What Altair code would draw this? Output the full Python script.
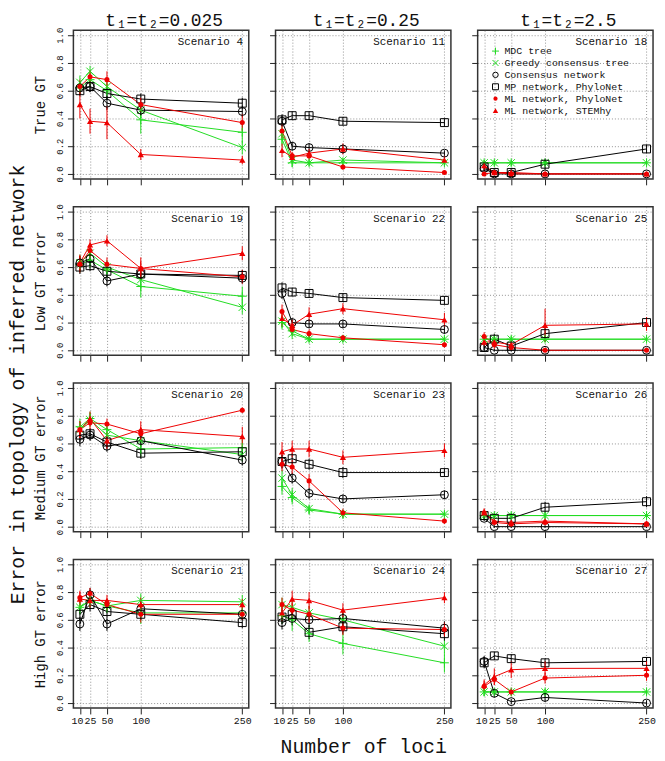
import altair as alt
import pandas as pd

LOCI = [10, 25, 50, 100, 250]
SERIES = ["MDC tree", "Greedy consensus tree", "Consensus network",
          "MP network, PhyloNet", "ML network, PhyloNet", "ML network, STEMhy"]
COLORS = ["#22dd22", "#22dd22", "#000000", "#000000", "#ee0000", "#ee0000"]
FILLED = [False, False, False, False, True, True]
SHAPES = ["M-1,0H1M0,-1V1", "M-1,-1L1,1M-1,1L1,-1", "circle", "square", "circle", "triangle-up"]
SIZES = [81, 56, 64, 64, 26, 40]
LEGEND_SIZES = [49, 36, 30, 36, 18, 30]

SCENARIO_GRID = [[4, 11, 18], [19, 22, 25], [20, 23, 26], [21, 24, 27]]
ROW_LABELS = ["True GT", "Low GT error", "Medium GT error", "High GT error"]
COL_LABELS = ["t\u2081=t\u2082=0.025", "t\u2081=t\u2082=0.25", "t\u2081=t\u2082=2.5"]
Y_TICKS = [0, 0.2, 0.4, 0.6, 0.8, 1]
LEGEND_SCENARIO = 18

# mean error per series (order of SERIES), one value per number of loci
MEAN_S4 = [[0.62, 0.68, 0.60, 0.39, 0.30], [0.66, 0.74, 0.63, 0.46, 0.19],
           [0.62, 0.63, 0.51, 0.46, 0.45], [0.60, 0.63, 0.58, 0.54, 0.51],
           [0.63, 0.70, 0.68, 0.50, 0.37], [0.50, 0.38, 0.37, 0.14, 0.10]]
MEAN_S11 = [[0.25, 0.08, 0.08, 0.08, 0.08], [0.29, 0.10, 0.08, 0.10, 0.08],
            [0.38, 0.20, 0.19, 0.18, 0.15], [0.39, 0.42, 0.42, 0.38, 0.37],
            [0.31, 0.13, 0.13, 0.05, 0.01], [0.17, 0.12, 0.15, 0.18, 0.10]]
MEAN_S18 = [[0.08, 0.08, 0.08, 0.08, 0.08], [0.08, 0.08, 0.08, 0.08, 0.08],
            [0.04, 0.00, 0.00, 0.00, 0.00], [0.05, 0.01, 0.01, 0.07, 0.18],
            [0.00, 0.01, 0.00, 0.00, 0.00], [0.06, 0.01, 0.01, 0.00, 0.00]]
MEAN_S19 = [[0.62, 0.65, 0.58, 0.46, 0.39], [0.63, 0.70, 0.60, 0.51, 0.31],
            [0.63, 0.66, 0.50, 0.55, 0.52], [0.60, 0.61, 0.57, 0.55, 0.54],
            [0.62, 0.72, 0.62, 0.59, 0.53], [0.63, 0.76, 0.79, 0.59, 0.70]]
MEAN_S22 = [[0.20, 0.14, 0.08, 0.08, 0.08], [0.21, 0.12, 0.08, 0.08, 0.08],
            [0.41, 0.20, 0.19, 0.19, 0.15], [0.45, 0.42, 0.41, 0.38, 0.36],
            [0.28, 0.15, 0.12, 0.09, 0.04], [0.23, 0.18, 0.26, 0.30, 0.22]]
MEAN_S25 = [[0.08, 0.08, 0.08, 0.08, 0.08], [0.08, 0.08, 0.08, 0.08, 0.08],
            [0.02, 0.00, 0.00, 0.00, 0.00], [0.02, 0.08, 0.03, 0.12, 0.20],
            [0.10, 0.04, 0.02, 0.00, 0.00], [0.06, 0.06, 0.04, 0.18, 0.19]]
MEAN_S20 = [[0.72, 0.78, 0.70, 0.56, 0.57], [0.70, 0.77, 0.66, 0.62, 0.52],
            [0.63, 0.66, 0.58, 0.62, 0.48], [0.66, 0.67, 0.61, 0.53, 0.54],
            [0.70, 0.75, 0.74, 0.67, 0.84], [0.70, 0.78, 0.62, 0.70, 0.65]]
MEAN_S23 = [[0.29, 0.21, 0.12, 0.09, 0.09], [0.35, 0.23, 0.13, 0.09, 0.09],
            [0.47, 0.35, 0.24, 0.20, 0.23], [0.47, 0.49, 0.45, 0.39, 0.39],
            [0.45, 0.43, 0.33, 0.10, 0.04], [0.54, 0.56, 0.56, 0.50, 0.55]]
MEAN_S26 = [[0.08, 0.08, 0.08, 0.08, 0.08], [0.08, 0.08, 0.08, 0.08, 0.08],
            [0.06, 0.00, 0.00, 0.00, 0.00], [0.08, 0.06, 0.06, 0.14, 0.18],
            [0.10, 0.03, 0.02, 0.03, 0.02], [0.10, 0.04, 0.03, 0.04, 0.02]]
MEAN_S21 = [[0.69, 0.74, 0.70, 0.65, 0.65], [0.69, 0.74, 0.70, 0.74, 0.73],
            [0.57, 0.78, 0.57, 0.68, 0.64], [0.64, 0.71, 0.66, 0.64, 0.58],
            [0.76, 0.79, 0.71, 0.64, 0.64], [0.75, 0.74, 0.74, 0.71, 0.71]]
MEAN_S24 = [[0.63, 0.60, 0.50, 0.43, 0.29], [0.71, 0.69, 0.65, 0.60, 0.41],
            [0.58, 0.61, 0.60, 0.61, 0.54], [0.62, 0.64, 0.51, 0.55, 0.50],
            [0.71, 0.67, 0.64, 0.54, 0.53], [0.65, 0.75, 0.74, 0.67, 0.76]]
MEAN_S27 = [[0.08, 0.08, 0.08, 0.08, 0.08], [0.08, 0.08, 0.08, 0.08, 0.08],
            [0.30, 0.07, 0.01, 0.04, 0.00], [0.29, 0.34, 0.32, 0.29, 0.30],
            [0.12, 0.17, 0.08, 0.18, 0.20], [0.13, 0.19, 0.24, 0.25, 0.25]]

# half-length of the error bars
ERR_S4 = [[0.05, 0.05, 0.06, 0.10, 0.08], [0.05, 0.04, 0.05, 0.06, 0.05],
          [0.05, 0.04, 0.05, 0.04, 0.04], [0.04, 0.04, 0.04, 0.04, 0.04],
          [0.05, 0.05, 0.06, 0.05, 0.06], [0.10, 0.09, 0.12, 0.04, 0.03]]
ERR_S11 = [[0.05, 0.03, 0.02, 0.02, 0.02], [0.05, 0.03, 0.02, 0.02, 0.02],
           [0.04, 0.03, 0.03, 0.03, 0.02], [0.04, 0.03, 0.03, 0.03, 0.03],
           [0.05, 0.03, 0.03, 0.02, 0.01], [0.05, 0.03, 0.03, 0.04, 0.03]]
ERR_S18 = [[0.02, 0.02, 0.02, 0.02, 0.02], [0.02, 0.02, 0.02, 0.02, 0.02],
           [0.02, 0.01, 0.01, 0.01, 0.01], [0.03, 0.02, 0.02, 0.04, 0.03],
           [0.01, 0.01, 0.01, 0.01, 0.01], [0.03, 0.02, 0.02, 0.01, 0.01]]
ERR_S19 = [[0.06, 0.06, 0.06, 0.08, 0.07], [0.06, 0.05, 0.05, 0.06, 0.05],
           [0.05, 0.05, 0.04, 0.04, 0.04], [0.05, 0.04, 0.04, 0.04, 0.04],
           [0.06, 0.05, 0.05, 0.05, 0.05], [0.06, 0.04, 0.04, 0.08, 0.05]]
ERR_S22 = [[0.05, 0.04, 0.02, 0.02, 0.02], [0.05, 0.04, 0.02, 0.02, 0.02],
           [0.04, 0.03, 0.03, 0.03, 0.03], [0.04, 0.03, 0.03, 0.03, 0.03],
           [0.05, 0.04, 0.03, 0.02, 0.02], [0.06, 0.04, 0.05, 0.04, 0.05]]
ERR_S25 = [[0.02, 0.02, 0.02, 0.02, 0.02], [0.02, 0.02, 0.02, 0.02, 0.02],
           [0.02, 0.01, 0.01, 0.01, 0.01], [0.03, 0.04, 0.03, 0.05, 0.04],
           [0.03, 0.03, 0.02, 0.01, 0.01], [0.03, 0.03, 0.03, 0.12, 0.05]]
ERR_S20 = [[0.06, 0.05, 0.05, 0.06, 0.06], [0.05, 0.05, 0.05, 0.05, 0.05],
           [0.05, 0.04, 0.04, 0.04, 0.04], [0.05, 0.04, 0.04, 0.04, 0.04],
           [0.06, 0.05, 0.04, 0.05, 0.02], [0.06, 0.05, 0.06, 0.06, 0.07]]
ERR_S23 = [[0.06, 0.05, 0.03, 0.03, 0.02], [0.06, 0.05, 0.03, 0.03, 0.02],
           [0.05, 0.04, 0.04, 0.03, 0.03], [0.05, 0.04, 0.04, 0.04, 0.03],
           [0.05, 0.05, 0.05, 0.03, 0.02], [0.07, 0.06, 0.06, 0.05, 0.05]]
ERR_S26 = [[0.02, 0.02, 0.02, 0.02, 0.02], [0.02, 0.02, 0.02, 0.02, 0.02],
           [0.02, 0.01, 0.01, 0.01, 0.01], [0.03, 0.02, 0.02, 0.04, 0.04],
           [0.03, 0.02, 0.02, 0.02, 0.02], [0.03, 0.02, 0.02, 0.02, 0.02]]
ERR_S21 = [[0.05, 0.05, 0.05, 0.08, 0.05], [0.05, 0.05, 0.05, 0.05, 0.05],
           [0.05, 0.05, 0.05, 0.05, 0.04], [0.05, 0.05, 0.04, 0.04, 0.04],
           [0.05, 0.04, 0.04, 0.06, 0.04], [0.05, 0.05, 0.04, 0.05, 0.04]]
ERR_S24 = [[0.06, 0.08, 0.06, 0.08, 0.07], [0.05, 0.05, 0.05, 0.05, 0.05],
           [0.05, 0.05, 0.05, 0.05, 0.05], [0.05, 0.05, 0.05, 0.05, 0.05],
           [0.05, 0.05, 0.06, 0.05, 0.05], [0.06, 0.06, 0.06, 0.05, 0.04]]
ERR_S27 = [[0.03, 0.02, 0.02, 0.02, 0.02], [0.03, 0.02, 0.02, 0.02, 0.02],
           [0.04, 0.03, 0.02, 0.03, 0.02], [0.04, 0.03, 0.03, 0.03, 0.03],
           [0.04, 0.04, 0.03, 0.04, 0.04], [0.04, 0.06, 0.06, 0.05, 0.05]]

MEANS = {4: MEAN_S4, 11: MEAN_S11, 18: MEAN_S18, 19: MEAN_S19, 22: MEAN_S22, 25: MEAN_S25,
         20: MEAN_S20, 23: MEAN_S23, 26: MEAN_S26, 21: MEAN_S21, 24: MEAN_S24, 27: MEAN_S27}
ERRS = {4: ERR_S4, 11: ERR_S11, 18: ERR_S18, 19: ERR_S19, 22: ERR_S22, 25: ERR_S25,
        20: ERR_S20, 23: ERR_S23, 26: ERR_S26, 21: ERR_S21, 24: ERR_S24, 27: ERR_S27}

FONT = "Liberation Mono"
W, H = 177, 150
X_DOMAIN = [0.4, 259.6]
Y_DOMAIN = [-0.036, 1.036]


def px_to_x(px):
    return X_DOMAIN[0] + px / W * (X_DOMAIN[1] - X_DOMAIN[0])


def px_to_y(px):
    return Y_DOMAIN[1] - px / H * (Y_DOMAIN[1] - Y_DOMAIN[0])


def series_frame(scn, si):
    rows = []
    for li, n in enumerate(LOCI):
        m = MEANS[scn][si][li]
        e = ERRS[scn][si][li]
        rows.append({"loci": n, "value": m, "lo": m - e, "hi": m + e})
    return pd.DataFrame(rows)


def point_mark(chart, si, size):
    if FILLED[si]:
        return chart.mark_point(shape=SHAPES[si], size=size, filled=True,
                                color=COLORS[si], opacity=1)
    return chart.mark_point(shape=SHAPES[si], size=size, filled=False,
                            color=COLORS[si], opacity=1, strokeWidth=1)


def make_panel(scn, r, c):
    x_axis = alt.Axis(values=LOCI, grid=True, labels=(r == 3), labelFontSize=10,
                      labelOverlap=False, labelFlush=False, labelPadding=2,
                      labelOffset={"condition": {"test": "datum.value == 10", "value": -3},
                                   "value": 0},
                      title=("Number of loci" if (r == 3 and c == 1) else None),
                      titleFontSize=20, titlePadding=11)
    y_axis = alt.Axis(values=Y_TICKS, grid=True, labels=(c == 0), labelAngle=270,
                      labelAlign="center", labelBaseline="bottom", labelFontSize=9,
                      labelPadding=3, labelOverlap=False, labelFlush=False,
                      title=(ROW_LABELS[r] if c == 0 else None),
                      titleFontSize=14, titlePadding=8)
    xs = alt.Scale(domain=X_DOMAIN, nice=False, zero=False)
    ys = alt.Scale(domain=Y_DOMAIN, nice=False, zero=False)
    X = alt.X("loci:Q", scale=xs, axis=x_axis)
    Y = alt.Y("value:Q", scale=ys, axis=y_axis)
    Ylo = alt.Y("lo:Q", scale=ys, axis=y_axis)

    lines, bars, pts = [], [], []
    for si in range(len(SERIES)):
        base = alt.Chart(series_frame(scn, si))
        lines.append(base.mark_line(strokeWidth=1, color=COLORS[si]).encode(x=X, y=Y))
        bars.append(base.mark_rule(strokeWidth=1, color=COLORS[si]).encode(x=X, y=Ylo, y2="hi:Q"))
        pts.append(point_mark(base, si, SIZES[si]).encode(x=X, y=Y))

    lab = alt.Chart(pd.DataFrame({"loci": [251], "value": [0.95],
                                  "label": [f"Scenario {scn}"]})).mark_text(
        align="right", baseline="middle", font=FONT, fontSize=11, color="#111111").encode(
        x=X, y=Y, text="label:N")
    layers = lines + bars + pts + [lab]

    if scn == LEGEND_SCENARIO:
        sym_x = px_to_x(18)
        txt_x = px_to_x(27)
        for si, s in enumerate(SERIES):
            ly = px_to_y(21 + 12 * si)
            sym = alt.Chart(pd.DataFrame({"loci": [sym_x], "value": [ly]}))
            layers.append(point_mark(sym, si, LEGEND_SIZES[si]).encode(x=X, y=Y))
        leg_df = pd.DataFrame({"loci": [txt_x] * len(SERIES),
                               "value": [px_to_y(21 + 12 * si) for si in range(len(SERIES))],
                               "label": SERIES})
        layers.append(alt.Chart(leg_df).mark_text(
            align="left", baseline="middle", font=FONT, fontSize=10, color="#111111").encode(
            x=X, y=Y, text="label:N"))

    if r == 0:
        head = alt.Chart(pd.DataFrame({"label": [COL_LABELS[c]]})).mark_text(
            align="center", baseline="alphabetic", font=FONT, fontSize=18,
            color="#111111").encode(x=alt.value(W / 2 + 3), y=alt.value(-4), text="label:N")
        layers.append(head)

    return alt.layer(*layers).properties(width=W, height=H)


panels = []
for r, row in enumerate(SCENARIO_GRID):
    for c, scn in enumerate(row):
        panels.append(make_panel(scn, r, c))

chart = alt.concat(*panels, columns=3, spacing={"row": 28, "column": 27}, bounds="flush",
                   title=alt.TitleParams("Error in topology of inferred network", orient="left",
                                         anchor="middle", font=FONT, fontSize=20,
                                         fontWeight="normal", offset=5)).properties(
    padding={"left": 0, "top": 0, "right": 0, "bottom": 0}
).configure_view(stroke="#333333", strokeWidth=1.5).configure_axis(
    labelFont=FONT, titleFont=FONT, titleFontWeight="normal", domain=False,
    tickSize=6, tickColor="#222222", labelColor="#111111", titleColor="#111111",
    gridColor="#777777", gridDash=[1, 2], gridWidth=0.8
).configure_title(color="#111111")

chart.save("out.html", embed_options={"renderer": "svg", "actions": False})
